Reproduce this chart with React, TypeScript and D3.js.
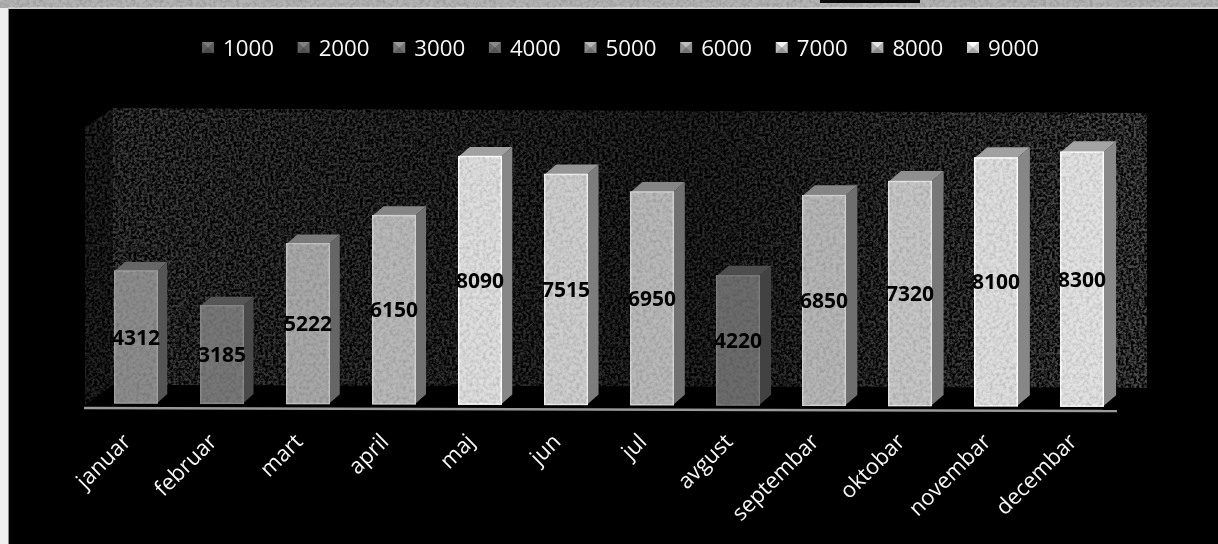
import React from "react";
import * as d3 from "d3";

const months = ["januar","februar","mart","april","maj","jun","jul","avgust","septembar","oktobar","novembar","decembar"];
const amounts = [4312,3185,5222,6150,8090,7515,6950,4220,6850,7320,8100,8300];
const shades = ["#8c8c8c","#777777","#a8a8a8","#b8b8b8","#dedede","#cecece","#b8b8b8","#6c6c6c","#b6b6b6","#c6c6c6","#dedede","#e2e2e2"];
const legendLabels = ["1000","2000","3000","4000","5000","6000","7000","8000","9000"];
const legendShades = ["#5c5c5c","#626262","#747474","#686868","#8a8a8a","#8e8e8e","#b8b8b8","#acacac","#cccccc"];

const W = 1218, H = 544;
const FONT = "'Open Sans', sans-serif";
const x = d3.scalePoint<string>().domain(months).range([136, 1082]);
const height = d3.scaleLinear().domain([0, 8300]).range([0, 254]);
const legendX = d3.scaleLinear().domain([0, 8]).range([223, 988]);
const slope = d3.scaleLinear().domain([114, 1104]).range([403, 406.3]);
const depthX = d3.scaleLinear().domain([114, 1104]).range([10, 13]);
const depthY = d3.scaleLinear().domain([114, 1104]).range([9, 11]);
const BW = 42.5;
const pts = (a: number[][]) => a.map(p => p.join(",")).join(" ");

export default function App() {
  return (
    <svg width={W} height={H} viewBox={`0 0 ${W} ${H}`} style={{ position: "absolute", left: 0, top: 0, background: "#000" }}>
      <defs>
        <filter id="speck" x="0" y="0" width="100%" height="100%">
          <feTurbulence type="fractalNoise" baseFrequency="0.38" numOctaves="2" seed="4" result="n" />
          <feColorMatrix in="n" type="matrix" values="0 0 0 0 1  0 0 0 0 1  0 0 0 0 1  3 0 0 0 -1.0" result="a" />
          <feComposite in="SourceGraphic" in2="a" operator="in" result="c" />
          <feGaussianBlur in="c" stdDeviation="0.7" />
        </filter>
        <filter id="grain" x="0" y="0" width="100%" height="100%">
          <feTurbulence type="fractalNoise" baseFrequency="0.3" numOctaves="2" seed="9" result="n" />
          <feColorMatrix in="n" type="matrix" values="0 0 0 0 0  0 0 0 0 0  0 0 0 0 0  0.32 0 0 0 -0.12" result="a" />
          <feComposite in="a" in2="SourceGraphic" operator="in" />
        </filter>
        <filter id="soft"><feGaussianBlur stdDeviation="0.6" /></filter>
        <linearGradient id="wall" x1="0" x2="1" y1="0" y2="0">
          <stop offset="0" stopColor="#3e3e3e" />
          <stop offset="0.55" stopColor="#282828" />
          <stop offset="1" stopColor="#4c4c4c" />
        </linearGradient>
      </defs>

      <rect x={0} y={0} width={8} height={H} fill="#efefef" />
      <rect x={8} y={8} width={1} height={H} fill="#8a8a8a" />
      <rect x={0} y={0} width={W} height={8} fill="#b4b4b4" />
      <rect x={8} y={7} width={W} height={2} fill="#cfcfcf" />
      <rect x={820} y={0} width={100} height={3} fill="#0a0a0a" />
      <rect x={0} y={0} width={W} height={8} fill="#000" filter="url(#grain)" />

      <g filter="url(#speck)">
        <polygon points={pts([[113,108],[1147,113],[1147,388],[113,385]])} fill="url(#wall)" />
        <polygon points={pts([[85,127],[113,108],[113,385],[85,405]])} fill="#262626" />
      </g>
      <polygon points={pts([[85,405],[113,385],[1147,388],[1116,411]])} fill="#000" />

      <g filter="url(#soft)">
        <line x1={84} y1={408} x2={1117} y2={411} stroke="#9a9a9a" strokeWidth={2.5} />

        {months.map((m, i) => {
          const l = x(m)! - BW / 2, r = l + BW;
          const base = slope(l), top = base - height(amounts[i]);
          const dx = depthX(l), dy = depthY(l);
          const c = d3.color(shades[i])!;
          return (
            <g key={m}>
              <polygon points={pts([[r,top],[r+dx,top-dy],[r+dx,base-dy],[r,base]])} fill={c.darker(1.4).formatHex()} />
              <polygon points={pts([[l,top],[l+dx,top-dy],[r+dx,top-dy],[r,top]])} fill={c.darker(0.9).formatHex()} />
              <rect x={l} y={top} width={BW} height={base - top} fill={shades[i]} stroke={c.brighter(0.4).formatHex()} strokeWidth={1.5} />
              <rect x={l} y={top} width={BW} height={base - top} fill="#000" filter="url(#grain)" />
            </g>
          );
        })}

        {months.map((m, i) => {
          const l = x(m)! - BW / 2;
          const base = slope(l), top = base - height(amounts[i]);
          return (
            <text key={m} x={x(m)!} y={(base + top) / 2 + 7.5} textAnchor="middle" fontFamily={FONT} fontWeight={700} fontSize={21} fill="#000">
              {amounts[i]}
            </text>
          );
        })}

        {months.map(m => (
          <text key={m} transform={`translate(${x(m)! - 4},${443}) rotate(-45)`} textAnchor="end" fontFamily={FONT} fontWeight={500} fontSize={22} fill="#f6f6f6">
            {m}
          </text>
        ))}

        {legendLabels.map((t, i) => {
          const tx = legendX(i), mx = tx - 21, my = 42;
          const c = d3.color(legendShades[i])!;
          return (
            <g key={t}>
              <rect x={mx} y={my} width={12} height={11} fill={legendShades[i]} />
              <polygon points={pts([[mx,my],[mx+12,my],[mx+6,my+5.5]])} fill={c.brighter(0.8).formatHex()} />
              <polygon points={pts([[mx,my+11],[mx+12,my+11],[mx+6,my+5.5]])} fill={c.darker(0.6).formatHex()} />
              <text x={tx} y={56} fontFamily={FONT} fontWeight={500} fontSize={22.5} textLength={51} lengthAdjust="spacingAndGlyphs" fill="#f8f8f8">{t}</text>
            </g>
          );
        })}
      </g>
    </svg>
  );
}
